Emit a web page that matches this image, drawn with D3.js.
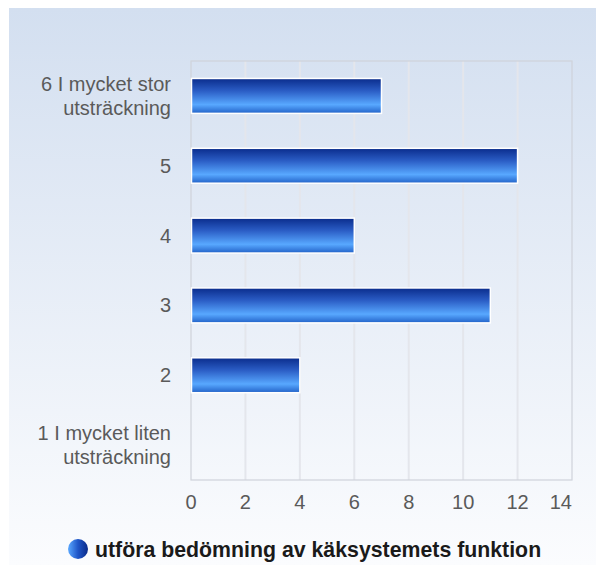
<!DOCTYPE html>
<html><head><meta charset="utf-8">
<script src="https://cdn.jsdelivr.net/npm/d3@7"></script>
<style>body{margin:0;background:#fff}svg{display:block}text{font-family:"Liberation Sans",Arial,sans-serif}</style>
</head><body><svg id="c" width="596" height="565"></svg>
<script>
const categories = ["6 I mycket stor\nutsträckning","5","4","3","2","1 I mycket liten\nutsträckning"];
const values = [7,12,6,11,4,0];
const xTicks = [0,2,4,6,8,10,12,14];
const seriesName = "utföra bedömning av käksystemets funktion";

const svg = d3.select("#c");
const defs = svg.append("defs");
const bg = defs.append("linearGradient").attr("id","bg").attr("x1",0).attr("y1",0).attr("x2",0).attr("y2",1);
bg.append("stop").attr("offset","0%").attr("stop-color","#d3dff0");
bg.append("stop").attr("offset","100%").attr("stop-color","#fbfcfe");
const bar = defs.append("linearGradient").attr("id","bar").attr("x1",0).attr("y1",0).attr("x2",0).attr("y2",1);
[[0,"#0a2c8c"],[0.35,"#2a5cc4"],[0.75,"#58a8ff"],[1,"#2262c8"]].forEach(([o,c])=>bar.append("stop").attr("offset",o).attr("stop-color",c));
const leg = defs.append("linearGradient").attr("id","leg").attr("x1",0).attr("y1",0).attr("x2",1).attr("y2",0);
[[0,"#5aa8ff"],[0.5,"#1f56c8"],[1,"#0a2a88"]].forEach(([o,c])=>leg.append("stop").attr("offset",o).attr("stop-color",c));

svg.append("rect").attr("x",9).attr("y",8).attr("width",587).attr("height",557).attr("fill","url(#bg)");

const L=191,R=572,T=61,B=480;
const x = d3.scaleLinear().domain([0,14]).range([L,R]);
const y = d3.scaleBand().domain(categories).range([T,B]).paddingInner(0.5).paddingOuter(0.25);

// grid
svg.append("g").selectAll("line").data(xTicks.slice(1,-1)).join("line")
  .attr("x1",d=>x(d)).attr("x2",d=>x(d)).attr("y1",T).attr("y2",B)
  .attr("stroke","#e4e6ec").attr("stroke-width",2);
svg.append("rect").attr("x",L).attr("y",T).attr("width",R-L).attr("height",B-T)
  .attr("fill","none").attr("stroke","#cfd3da").attr("stroke-width",1.2);

// bars
svg.append("g").selectAll("rect").data(values.map((v,i)=>({v,c:categories[i]})).filter(d=>d.v>0)).join("rect")
  .attr("x",x(0)+0.5).attr("y",d=>y(d.c)).attr("width",d=>x(d.v)-x(0)-0.5).attr("height",y.bandwidth())
  .attr("fill","url(#bar)").attr("stroke","#ffffff").attr("stroke-width",1.5);

// y labels
const yl = svg.append("g");
categories.forEach(c=>{
  const lines=c.split("\n");
  const cy=y(c)+y.bandwidth()/2;
  const t=yl.append("text").attr("text-anchor","end").attr("fill","#5a5a5a").attr("font-size",20);
  lines.forEach((ln,i)=>t.append("tspan").attr("x",171).attr("y",cy+7+(i-(lines.length-1)/2)*24).text(ln));
});

// x labels
svg.append("g").selectAll("text").data(xTicks).join("text")
  .attr("x",d=>d===14?R:x(d)).attr("y",509).attr("text-anchor",d=>d===14?"end":"middle")
  .attr("fill","#5a5a5a").attr("font-size",20).text(d=>d);

// legend
svg.append("circle").attr("cx",78).attr("cy",549).attr("r",10).attr("fill","url(#leg)");
svg.append("text").attr("x",95).attr("y",557).attr("font-size",21.3).attr("font-weight","bold").attr("fill","#1a1a1a").text(seriesName);
</script></body></html>
